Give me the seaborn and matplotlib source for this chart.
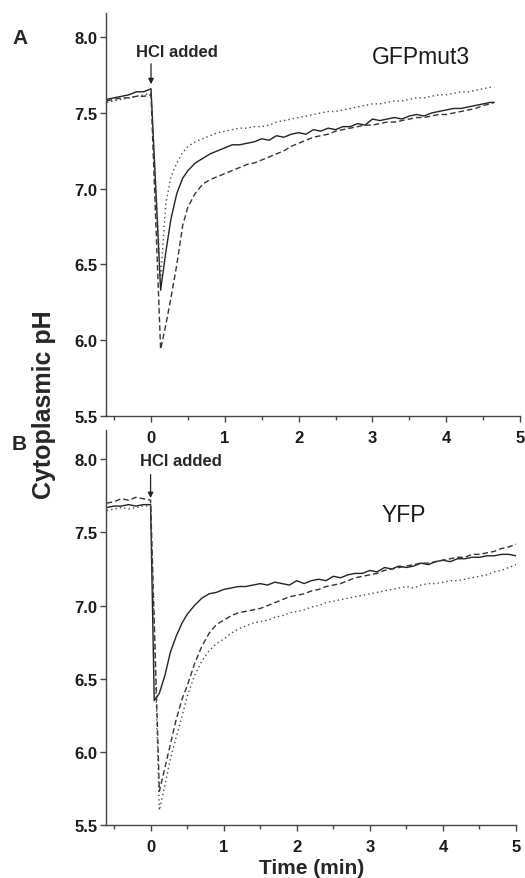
import numpy as np
import pandas as pd
import matplotlib
matplotlib.use("Agg")
import matplotlib.pyplot as plt
from matplotlib.ticker import MultipleLocator
import seaborn as sns

# ---- panel A (GFPmut3) ----
time_a = [-0.6, -0.5, -0.4, -0.3, -0.2, -0.1, 0.0, 0.13, 0.2, 0.27, 0.35, 0.43, 0.5,
          0.6, 0.7, 0.8, 0.9, 1.0, 1.1, 1.2, 1.3, 1.4, 1.5, 1.6, 1.7, 1.8, 1.9, 2.0,
          2.1, 2.2, 2.3, 2.4, 2.5, 2.6, 2.7, 2.8, 2.9, 3.0, 3.1, 3.2, 3.3, 3.4, 3.5,
          3.6, 3.7, 3.8, 3.9, 4.0, 4.1, 4.2, 4.3, 4.4, 4.5, 4.6, 4.65]
solid_a = [7.59, 7.60, 7.61, 7.62, 7.64, 7.64, 7.66, 6.33, 6.58, 6.80, 6.97, 7.07, 7.12,
           7.17, 7.20, 7.23, 7.25, 7.27, 7.29, 7.29, 7.30, 7.31, 7.33, 7.32, 7.35, 7.34,
           7.36, 7.37, 7.36, 7.39, 7.38, 7.40, 7.39, 7.41, 7.41, 7.43, 7.42, 7.46, 7.45,
           7.46, 7.47, 7.46, 7.48, 7.49, 7.48, 7.50, 7.51, 7.52, 7.53, 7.53, 7.54, 7.55,
           7.56, 7.57, 7.57]
dashed_a = [7.58, 7.59, 7.60, 7.60, 7.61, 7.61, 7.62, 5.94, 6.10, 6.28, 6.50, 6.76, 6.88,
            6.97, 7.03, 7.06, 7.08, 7.10, 7.12, 7.14, 7.16, 7.17, 7.19, 7.21, 7.23, 7.25,
            7.28, 7.30, 7.32, 7.34, 7.35, 7.36, 7.38, 7.39, 7.40, 7.41, 7.42, 7.42, 7.43,
            7.44, 7.44, 7.45, 7.46, 7.47, 7.47, 7.48, 7.49, 7.49, 7.50, 7.51, 7.52, 7.53,
            7.55, 7.56, 7.57]
dotted_a = [7.57, 7.58, 7.59, 7.60, 7.61, 7.62, 7.63, 6.40, 6.90, 7.08, 7.17, 7.24, 7.28,
            7.31, 7.33, 7.35, 7.37, 7.38, 7.39, 7.40, 7.40, 7.41, 7.41, 7.42, 7.44, 7.45,
            7.46, 7.47, 7.48, 7.49, 7.50, 7.51, 7.51, 7.52, 7.53, 7.54, 7.55, 7.56, 7.56,
            7.57, 7.58, 7.58, 7.59, 7.60, 7.60, 7.61, 7.62, 7.62, 7.63, 7.64, 7.64, 7.65,
            7.66, 7.67, 7.67]

# ---- panel B (YFP) ----
time_b = [-0.6, -0.5, -0.4, -0.3, -0.2, -0.1, 0.0, 0.05, 0.12, 0.2, 0.27, 0.35, 0.43,
          0.5, 0.6, 0.7, 0.8, 0.9, 1.0, 1.1, 1.2, 1.3, 1.4, 1.5, 1.6, 1.7, 1.8, 1.9,
          2.0, 2.1, 2.2, 2.3, 2.4, 2.5, 2.6, 2.7, 2.8, 2.9, 3.0, 3.1, 3.2, 3.3, 3.4,
          3.5, 3.6, 3.7, 3.8, 3.9, 4.0, 4.1, 4.2, 4.3, 4.4, 4.5, 4.6, 4.7, 4.8, 4.9, 5.0]
solid_b = [7.67, 7.68, 7.68, 7.69, 7.68, 7.69, 7.69, 6.35, 6.40, 6.53, 6.68, 6.79, 6.88,
           6.94, 7.00, 7.05, 7.08, 7.09, 7.11, 7.12, 7.13, 7.13, 7.14, 7.15, 7.14, 7.16,
           7.15, 7.14, 7.17, 7.15, 7.17, 7.18, 7.17, 7.20, 7.19, 7.21, 7.22, 7.22, 7.24,
           7.23, 7.26, 7.25, 7.27, 7.26, 7.27, 7.29, 7.28, 7.30, 7.31, 7.30, 7.32, 7.32,
           7.33, 7.33, 7.34, 7.34, 7.35, 7.35, 7.34]
dashed_b = [7.70, 7.71, 7.73, 7.72, 7.74, 7.73, 7.72, 6.90, 5.73, 5.90, 6.05, 6.22, 6.36,
            6.45, 6.60, 6.72, 6.81, 6.87, 6.90, 6.93, 6.95, 6.96, 6.97, 6.98, 7.00, 7.02,
            7.04, 7.06, 7.07, 7.08, 7.10, 7.11, 7.13, 7.14, 7.15, 7.17, 7.19, 7.20, 7.21,
            7.22, 7.24, 7.25, 7.26, 7.27, 7.28, 7.29, 7.29, 7.30, 7.31, 7.32, 7.33, 7.33,
            7.35, 7.35, 7.36, 7.37, 7.39, 7.40, 7.42]
dotted_b = [7.65, 7.66, 7.67, 7.66, 7.67, 7.68, 7.68, 6.80, 5.60, 5.78, 5.95, 6.10, 6.24,
            6.38, 6.52, 6.62, 6.69, 6.74, 6.77, 6.81, 6.84, 6.86, 6.88, 6.89, 6.90, 6.92,
            6.93, 6.95, 6.96, 6.97, 6.99, 7.00, 7.02, 7.03, 7.04, 7.05, 7.06, 7.07, 7.08,
            7.09, 7.10, 7.11, 7.12, 7.13, 7.12, 7.14, 7.15, 7.15, 7.16, 7.17, 7.17, 7.18,
            7.19, 7.20, 7.21, 7.23, 7.24, 7.26, 7.28]

y_ticks = [5.5, 6.0, 6.5, 7.0, 7.5, 8.0]
x_ticks = [0, 1, 2, 3, 4, 5]


def long_table(t, solid, dashed, dotted):
    parts = []
    for name, vals in [("solid", solid), ("dashed", dashed), ("dotted", dotted)]:
        parts.append(pd.DataFrame({"t": t, "pH": vals, "trace": name}))
    return pd.concat(parts, ignore_index=True)


sns.set_style("ticks")
plt.rcParams["font.family"] = ["Liberation Sans", "DejaVu Sans"]

fig = plt.figure(figsize=(5.25, 8.79), dpi=100)
axA = fig.add_axes([106 / 525, 1 - 417 / 879, 414 / 525, 403 / 879])
axB = fig.add_axes([106 / 525, 1 - 826 / 879, 410 / 525, 395 / 879])

dash_map = {"solid": "", "dashed": (4, 2.2), "dotted": (1, 2.2)}
gray_map = {"solid": "#222222", "dashed": "#333333", "dotted": "#4a4a4a"}

for ax, df, ytop in [(axA, long_table(time_a, solid_a, dashed_a, dotted_a), 8.16),
                     (axB, long_table(time_b, solid_b, dashed_b, dotted_b), 8.2)]:
    sns.lineplot(data=df, x="t", y="pH", hue="trace", style="trace", dashes=dash_map,
                 palette=gray_map, linewidth=1.0, estimator=None, sort=False,
                 legend=False, ax=ax)
    ax.set_xlim(-0.61, 5.0)
    ax.set_ylim(5.5, ytop)
    ax.set_yticks(y_ticks)
    ax.set_yticklabels([f"{v:.1f}" for v in y_ticks])
    ax.set_xticks(x_ticks)
    ax.xaxis.set_minor_locator(MultipleLocator(0.5))
    ax.set_xlabel("")
    ax.set_ylabel("")
    for s in ["top", "right"]:
        ax.spines[s].set_visible(False)
    for s in ["left", "bottom"]:
        ax.spines[s].set_color("#444444")
        ax.spines[s].set_linewidth(1.0)
    ax.tick_params(axis="both", which="major", length=4, width=1, color="#444444",
                   labelsize=12, labelcolor="#1a1a1a")
    ax.tick_params(axis="x", which="major", pad=6)
    ax.tick_params(axis="y", which="major", pad=2)
    ax.tick_params(axis="x", which="minor", length=3, width=1, color="#444444")
    for lab in ax.get_xticklabels() + ax.get_yticklabels():
        lab.set_fontweight("bold")
    ax.patch.set_alpha(0)

# "HCl added" labels with vertical arrows at t = 0
arrow_style = dict(arrowstyle="-|>", color="#222222", lw=0.9, mutation_scale=8,
                   shrinkA=0, shrinkB=0)
axA.text(-0.21, 7.905, "HCl added", fontsize=12, fontweight="bold", ha="left", va="center")
axA.annotate("", xy=(0.0, 7.69), xytext=(0.0, 7.825), arrowprops=arrow_style)
axB.text(-0.15, 7.99, "HCl added", fontsize=12, fontweight="bold", ha="left", va="center")
axB.annotate("", xy=(0.0, 7.735), xytext=(0.0, 7.895), arrowprops=arrow_style)

axA.text(3.66, 7.87, "GFPmut3", fontsize=16.5, ha="center", va="center", color="#1a1a1a")
axB.text(3.47, 7.625, "YFP", fontsize=16.5, ha="center", va="center", color="#1a1a1a")

fig.text(20 / 525, 1 - 39 / 879, "A", fontsize=15, fontweight="bold", ha="center", va="center")
fig.text(19 / 525, 1 - 445 / 879, "B", fontsize=15, fontweight="bold", ha="center", va="center")
fig.text(44 / 525, 1 - 405 / 879, "Cytoplasmic pH", fontsize=18, fontweight="bold",
         rotation=90, ha="center", va="center")
fig.text(312 / 525, 1 - 869 / 879, "Time (min)", fontsize=15, fontweight="bold",
         ha="center", va="center")

fig.savefig("out.png", dpi=100)
